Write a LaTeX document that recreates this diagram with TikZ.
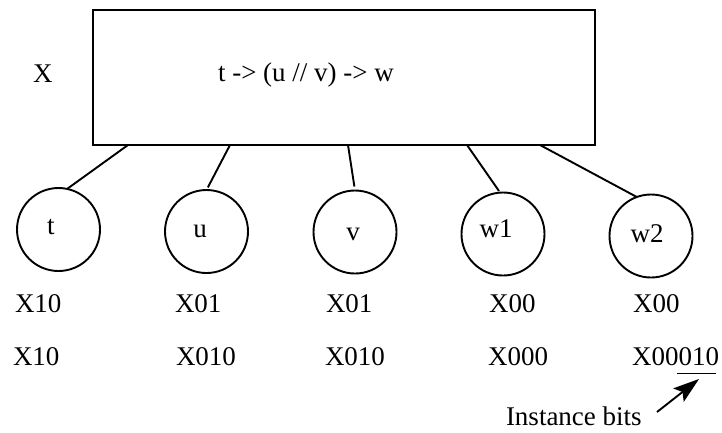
\documentclass[tikz,border=0pt]{standalone}
\usepackage{fontspec}
\setmainfont{Liberation Serif}
\usetikzlibrary{arrows.meta}

\tikzset{
  every node/.style={inner sep=0pt, outer sep=0pt},
  txt/.style={font=\fontsize{27}{32}\selectfont, anchor=base west},
  nodelabel/.style={font=\fontsize{27}{32}\selectfont, anchor=base},
  framebox/.style={draw, line width=1.9pt, minimum width=502pt, minimum height=135pt},
  task/.style={draw, circle, line width=1.9pt, minimum size=83pt},
  link/.style={line width=1.9pt},
  pointer/.style={line width=1.9pt, -{Stealth[length=26pt, width=17pt, inset=5pt]}}
}

\begin{document}
\begin{tikzpicture}[x=1pt, y=-1pt]
  \useasboundingbox (0,0) rectangle (722,432);

  % composite task and its expression
  \node[framebox] (box) at (344,77.5) {};
  \node[txt] (boxname) at (33,82) {X};
  \node[txt] (expr) at (218,81) {t -> (u // v) -> w};

  % sub-tasks
  \node[task] (t)  at (58.5,229.5) {};
  \node[task] (u)  at (206.5,231.5) {};
  \node[task] (v)  at (355,232) {};
  \node[task] (w1) at (503,234) {};
  \node[task] (w2) at (651,236) {};

  \node[nodelabel] (tl)  at (51,234)  {t};
  \node[nodelabel] (ul)  at (200,237) {u};
  \node[nodelabel] (vl)  at (353,240) {v};
  \node[nodelabel] (w1l) at (496,237) {w1};
  \node[nodelabel] (w2l) at (647,242) {w2};

  % attachment points on the lower edge of the box
  \coordinate (b1) at (128,145);
  \coordinate (b2) at (230,145);
  \coordinate (b3) at (348,145);
  \coordinate (b4) at (467,145);
  \coordinate (b5) at (540,145);

  \draw[link] (b1) -- (t.78);
  \draw[link, shorten >=3pt] (b2) -- (u.90);
  \draw[link, shorten >=4pt] (b3) -- (v.90);
  \draw[link, shorten >=2pt] (b4) -- (w1.94);
  \draw[link] (b5) -- (w2.110);

  % first row of identifiers
  \node[txt] (a1) at (15,312)  {X10};
  \node[txt] (a2) at (175,312) {X01};
  \node[txt] (a3) at (326,312) {X01};
  \node[txt] (a4) at (489,312) {X00};
  \node[txt] (a5) at (633,312) {X00};

  % second row of identifiers
  \node[txt] (c1) at (13,365)  {X10};
  \node[txt] (c2) at (176,365) {X010};
  \node[txt] (c3) at (325,365) {X010};
  \node[txt] (c4) at (488,365) {X000};
  \node[txt] (c5) at (632,365) {X00010};

  % instance bits marker
  \coordinate (ul1) at (677,373.5);
  \coordinate (ul2) at (716,373.5);
  \draw[line width=1.9pt] (ul1) -- (ul2);

  \node[txt] (inst) at (506,425) {Instance bits};
  \coordinate (tail) at (657,412);
  \coordinate (tip) at (699,379);
  \draw[pointer] (tail) -- (tip);
\end{tikzpicture}
\end{document}
